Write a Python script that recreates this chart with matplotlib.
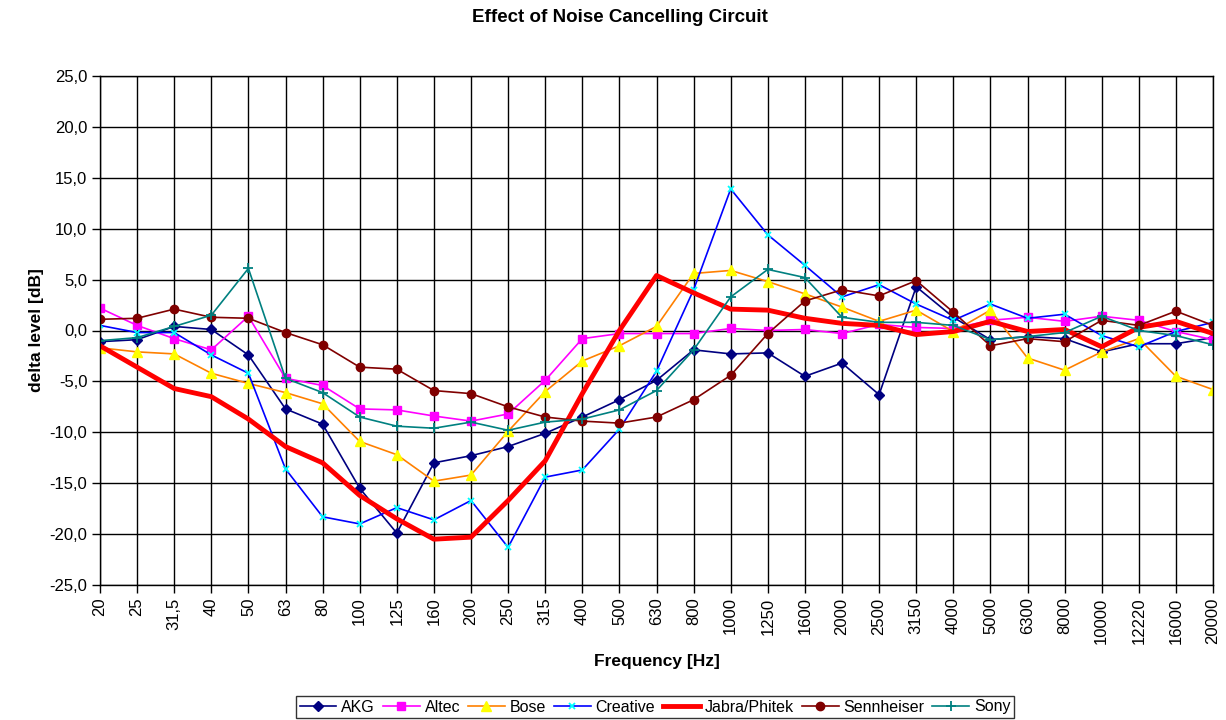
import numpy as np
import matplotlib
matplotlib.use("Agg")
import matplotlib.pyplot as plt
from matplotlib.ticker import FuncFormatter

plt.rcParams['font.family'] = ['Liberation Sans', 'DejaVu Sans']

freqs = ["20", "25", "31,5", "40", "50", "63", "80", "100", "125", "160",
         "200", "250", "315", "400", "500", "630", "800", "1000", "1250", "1600",
         "2000", "2500", "3150", "4000", "5000", "6300", "8000", "10000", "12220",
         "16000", "20000"]

akg = [-1.1, -0.9, 0.4, 0.1, -2.4, -7.7, -9.2, -15.5, -19.9, -13.0,
       -12.3, -11.4, -10.1, -8.5, -6.8, -4.9, -1.9, -2.3, -2.2, -4.5,
       -3.2, -6.3, 4.3, 1.3, -0.9, -0.6, -0.8, -2.1, -1.3, -1.3, -0.7]
altec = [2.2, 0.5, -0.8, -1.9, 1.4, -4.7, -5.4, -7.7, -7.8, -8.4,
         -8.9, -8.2, -4.9, -0.8, -0.3, -0.3, -0.3, 0.2, 0.0, 0.1,
         -0.3, 0.6, 0.3, 0.2, 1.0, 1.3, 0.9, 1.4, 1.0, -0.1, -0.9]
bose = [-1.7, -2.1, -2.3, -4.2, -5.2, -6.1, -7.2, -10.9, -12.2, -14.8,
        -14.2, -9.9, -6.0, -3.0, -1.5, 0.4, 5.6, 5.9, 4.8, 3.6,
        2.3, 0.9, 2.0, -0.1, 2.0, -2.7, -3.9, -2.1, -0.8, -4.5, -5.8]
creative = [0.5, -0.2, -0.2, -2.4, -4.2, -13.6, -18.3, -19.0, -17.4, -18.6,
            -16.7, -21.3, -14.4, -13.7, -9.7, -4.0, 4.0, 13.9, 9.4, 6.4,
            3.3, 4.5, 2.6, 1.0, 2.6, 1.2, 1.6, -0.5, -1.6, -0.1, 0.8]
jabra = [-1.5, -3.6, -5.7, -6.5, -8.7, -11.4, -13.0, -16.2, -18.5, -20.5,
         -20.3, -16.7, -12.8, -6.2, 0.0, 5.4, 3.7, 2.1, 2.0, 1.2,
         0.7, 0.5, -0.4, -0.1, 0.9, -0.1, 0.1, -1.6, 0.3, 0.9, -0.3]
sennheiser = [1.1, 1.2, 2.1, 1.3, 1.2, -0.2, -1.4, -3.6, -3.8, -5.9,
              -6.2, -7.5, -8.5, -8.9, -9.1, -8.5, -6.8, -4.4, -0.3, 2.9,
              4.0, 3.4, 4.9, 1.8, -1.5, -0.8, -1.1, 1.0, 0.5, 1.9, 0.5]
sony = [-1.0, -0.7, 0.4, 1.5, 6.1, -4.7, -6.1, -8.5, -9.4, -9.6,
        -9.0, -9.8, -9.0, -8.7, -7.8, -5.9, -1.9, 3.3, 6.0, 5.2,
        1.3, 0.8, 0.8, 0.5, -0.9, -0.6, -0.2, 1.4, 0.0, -0.5, -1.4]

x = np.arange(len(freqs))

fig = plt.figure(figsize=(12.26, 7.2), dpi=100)
ax = fig.add_axes([100 / 1226, 1 - 585 / 720, 1113 / 1226, 509 / 720])

ax.plot(x, akg, color='#000080', lw=1.2, marker='D', ms=5, mfc='#000080', mec='#000080', label='AKG')
ax.plot(x, altec, color='#FF00FF', lw=1.2, marker='s', ms=6, mfc='#FF00FF', mec='#FF00FF', label='Altec')
ax.plot(x, bose, color='#FF8000', lw=1.2, marker='^', ms=7, mfc='#FFFF00', mec='#FFFF00', label='Bose')
ax.plot(x, creative, color='#0000FF', lw=1.2, marker='x', ms=5, mew=1.3, mec='#00FFFF', label='Creative')
ax.plot(x, jabra, color='#FF0000', lw=3.5, label='Jabra/Phitek')
ax.plot(x, sennheiser, color='#800000', lw=1.2, marker='o', ms=6, mfc='#800000', mec='#800000', label='Sennheiser')
ax.plot(x, sony, color='#008080', lw=1.2, marker='+', ms=7, mew=1.3, mec='#008080', label='Sony')

ax.set_xlim(0, len(freqs) - 1)
ax.set_ylim(-25, 25)
ax.set_yticks(np.arange(-25, 26, 5))
ax.yaxis.set_major_formatter(FuncFormatter(lambda v, p: f"{v:.1f}".replace('.', ',')))
ax.set_xticks(x)
ax.set_xticklabels(freqs, rotation=90, fontsize=12)
ax.tick_params(axis='y', labelsize=12, direction='out', length=6, width=1, color='black', pad=3)
ax.tick_params(axis='x', direction='out', length=6, width=1, color='black', pad=3)
ax.grid(True, color='black', lw=1)
ax.set_axisbelow(True)
for s in ax.spines.values():
    s.set_color('black')
    s.set_linewidth(1)

ax.set_xlabel("Frequency [Hz]", fontsize=12.5, fontweight='bold', labelpad=7)
ax.set_ylabel("delta level [dB]", fontsize=12.5, fontweight='bold', labelpad=4)
fig.text(0.506, 1 - 17 / 720, "Effect of Noise Cancelling Circuit", ha='center', va='center',
         fontsize=13.5, fontweight='bold')

leg = fig.legend(loc='center', bbox_to_anchor=(655 / 1226, 1 - 707 / 720), ncol=7, fontsize=11.5,
                 frameon=True, fancybox=False, edgecolor='black', handlelength=2.3,
                 handletextpad=0.3, columnspacing=0.5, borderpad=0.2)
leg.get_frame().set_linewidth(1)

fig.savefig('out.png', dpi=100)
